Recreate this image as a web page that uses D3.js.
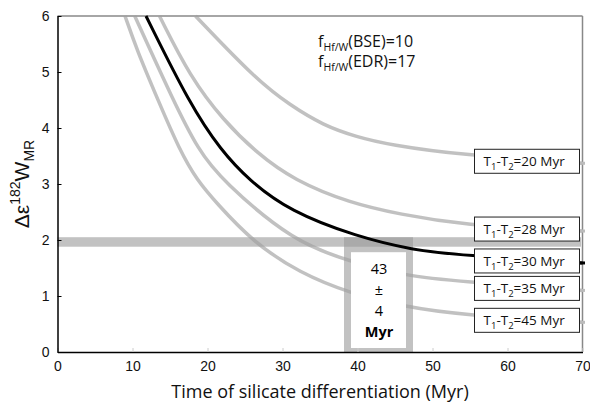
<!DOCTYPE html>
<html>
<head>
<meta charset="utf-8">
<script src="https://cdn.jsdelivr.net/npm/d3@7"></script>
<style>
  body { margin: 0; background: #fff; }
  svg { display: block; }
</style>
</head>
<body>
<div id="chart"></div>
<script>
// curves: [time (Myr), delta eps182W]
var curve20 = [[18.4,6],[26.6,4.85],[31,4.41],[35.4,4.05],[39.9,3.84],[44.3,3.7],[53.7,3.52],[70,3.37]];
var curve28 = [[13.6,6],[17.7,4.91],[22.1,4.14],[26.6,3.55],[31.5,3.07],[39,2.66],[45.7,2.46],[53.7,2.27],[70,2.16]];
var curve30 = [[11.8,6],[17.7,4.41],[21.8,3.6],[25.5,3.07],[31,2.51],[39.9,2.06],[47.4,1.82],[53.7,1.73],[70,1.59]];
var curve35 = [[10.3,6],[15.4,4.5],[18.8,3.6],[21.9,3.07],[31.5,1.96],[39,1.62],[46.3,1.36],[53.7,1.26],[70,1.10]];
var curve45 = [[9.0,6],[10.6,5.39],[13.4,4.5],[16.3,3.6],[18.6,3.07],[21.2,2.66],[26.1,1.96],[32.3,1.41],[39,1.05],[46.2,0.81],[53.7,0.665],[70,0.53]];

var curveNames = ["20", "28", "30", "35", "45"];
var curveData = [curve20, curve28, curve30, curve35, curve45];

var xTicks = [0, 10, 20, 30, 40, 50, 60, 70];
var yTicks = [0, 1, 2, 3, 4, 5, 6];

// measured W anomaly band and resulting age
var bandY = [1.88, 2.05];
var ageMid = 43, ageErr = 4;

var width = 590, height = 408;
var margin = {top: 16, left: 57.5, right: 7.5, bottom: 56};

var x = d3.scaleLinear().domain([0, 70]).range([margin.left, width - margin.right]);
var y = d3.scaleLinear().domain([0, 6]).range([height - margin.bottom, margin.top]);

var svg = d3.select("#chart").append("svg")
    .attr("width", width)
    .attr("height", height);

var font = "'Open Sans', sans-serif";

// bands
var bands = svg.append("g");
bands.append("rect")
    .attr("x", x(0))
    .attr("y", y(bandY[1]))
    .attr("width", x(69.8) - x(0))
    .attr("height", y(bandY[0]) - y(bandY[1]))
    .style("fill", "#999")
    .style("fill-opacity", 0.6);
bands.append("rect")
    .attr("x", x(ageMid - ageErr - 0.8))
    .attr("y", y(bandY[1]))
    .attr("width", x(ageMid + ageErr + 0.4) - x(ageMid - ageErr - 0.8))
    .attr("height", y(0) - y(bandY[1]))
    .style("fill", "#999")
    .style("fill-opacity", 0.6);

// borders top & right
svg.append("line")
    .attr("x1", x(0)).attr("x2", x(70))
    .attr("y1", y(6)).attr("y2", y(6))
    .style("stroke", "#888").style("stroke-width", 1.5);
svg.append("line")
    .attr("x1", x(70)).attr("x2", x(70))
    .attr("y1", y(6)).attr("y2", y(0))
    .style("stroke", "#888").style("stroke-width", 1.5);

// curves
var line = d3.line()
    .x(function(d) { return x(d[0]); })
    .y(function(d) { return y(d[1]); })
    .curve(d3.curveBasis);

svg.append("g")
    .selectAll("path")
    .data(curveData)
    .enter()
    .append("path")
    .attr("d", line)
    .style("fill", "none")
    .style("stroke", function(d, i) { return curveNames[i] == "30" ? "#000" : "#a0a0a0"; })
    .style("stroke-opacity", function(d, i) { return curveNames[i] == "30" ? 1 : 0.65; })
    .style("stroke-width", function(d, i) { return curveNames[i] == "30" ? 3 : 3.5; });

// small stubs right of the frame where the curves end
svg.append("g")
    .selectAll("line")
    .data(curveData)
    .enter()
    .append("line")
    .attr("x1", x(70) - 3).attr("x2", x(70) + 2.5)
    .attr("y1", function(d) { return y(d[d.length - 1][1]); })
    .attr("y2", function(d) { return y(d[d.length - 1][1]); })
    .style("stroke", function(d, i) { return curveNames[i] == "30" ? "#000" : "#bbb"; })
    .style("stroke-width", 3);

// axes
var xAxis = svg.append("g")
    .attr("transform", "translate(0," + y(0) + ")")
    .call(d3.axisBottom(x).tickValues(xTicks).tickFormat(d3.format("d"))
        .tickSizeInner(-4).tickSizeOuter(0).tickPadding(9));
xAxis.select(".domain").style("stroke", "#000").style("stroke-width", 1.5);
xAxis.selectAll(".tick line").style("stroke", "#ccc");
xAxis.selectAll(".tick text")
    .style("font-family", "'Liberation Sans', Arial, sans-serif")
    .style("font-size", "14px")
    .style("fill", "#111");

var yAxis = svg.append("g")
    .attr("transform", "translate(" + x(0) + ",0)")
    .call(d3.axisLeft(y).tickValues(yTicks).tickFormat(d3.format("d"))
        .tickSizeInner(-4).tickSizeOuter(0).tickPadding(8));
yAxis.select(".domain").style("stroke", "#000").style("stroke-width", 1.5);
yAxis.selectAll(".tick line").style("stroke", "#000");
yAxis.selectAll(".tick text")
    .style("font-family", "'Liberation Sans', Arial, sans-serif")
    .style("font-size", "14px")
    .style("fill", "#111");

// white box with age
svg.append("rect")
    .attr("x", x(ageMid - ageErr - 0.8) + 7)
    .attr("y", y(bandY[1]) + 15)
    .attr("width", x(ageMid + ageErr + 0.4) - x(ageMid - ageErr - 0.8) - 14)
    .attr("height", y(0) - y(bandY[1]) - 19)
    .style("fill", "#fff");

var ageLines = [String(ageMid), "\u00b1", String(ageErr), "Myr"];
svg.append("g")
    .selectAll("text")
    .data(ageLines)
    .enter()
    .append("text")
    .attr("x", x(ageMid) - 1)
    .attr("y", function(d, i) { return y(bandY[1]) + 37 + i * 21; })
    .attr("text-anchor", "middle")
    .style("font-family", font)
    .style("font-size", "14.5px")
    .style("font-weight", function(d, i) { return i == 3 ? "bold" : "normal"; })
    .text(function(d) { return d; });

// label boxes
var labels = svg.append("g")
    .selectAll("g")
    .data(curveData)
    .enter()
    .append("g")
    .attr("transform", function(d) {
        return "translate(" + (x(55.6)) + "," + (y(d[d.length - 1][1]) - 2 - 12) + ")";
    });
labels.append("rect")
    .attr("width", 105)
    .attr("height", 24)
    .style("fill", "#fff")
    .style("stroke", "#222")
    .style("stroke-width", 1);
var lt = labels.append("text")
    .attr("x", 9)
    .attr("y", 17)
    .style("font-family", font)
    .style("font-size", "13.5px")
    .style("fill", "#111");
lt.append("tspan").text("T");
lt.append("tspan").attr("dy", 4).style("font-size", "9.5px").text("1");
lt.append("tspan").attr("dy", -4).text("-T");
lt.append("tspan").attr("dy", 4).style("font-size", "9.5px").text("2");
lt.append("tspan").attr("dy", -4).text(function(d, i) { return "=" + curveNames[i] + " Myr"; });

// f annotation
var fLines = ["BSE)=10", "EDR)=17"];
var ft = svg.append("g")
    .selectAll("text")
    .data(fLines)
    .enter()
    .append("text")
    .attr("x", 318)
    .attr("y", function(d, i) { return 47 + i * 20; })
    .style("font-family", font)
    .style("font-size", "16px")
    .style("fill", "#111");
ft.append("tspan").text("f");
ft.append("tspan").attr("dy", 4).style("font-size", "10.5px").text("Hf/W");
ft.append("tspan").attr("dy", -4).text(function(d) { return "(" + d; });

// x title
svg.append("text")
    .attr("x", 320)
    .attr("y", 398)
    .attr("text-anchor", "middle")
    .style("font-family", font)
    .style("font-size", "18px")
    .style("fill", "#111")
    .text("Time of silicate differentiation (Myr)");

// y title
var yt = svg.append("text")
    .attr("transform", "translate(29,184)rotate(-90)")
    .attr("text-anchor", "middle")
    .style("font-family", "'Liberation Sans', Arial, sans-serif")
    .style("font-size", "21px")
    .style("fill", "#111");
yt.append("tspan").text("\u0394\u03b5");
yt.append("tspan").attr("dy", -9).style("font-size", "14px").text("182");
yt.append("tspan").attr("dy", 9).text("W");
yt.append("tspan").attr("dy", 5).style("font-size", "14px").text("MR");
</script>
</body>
</html>
